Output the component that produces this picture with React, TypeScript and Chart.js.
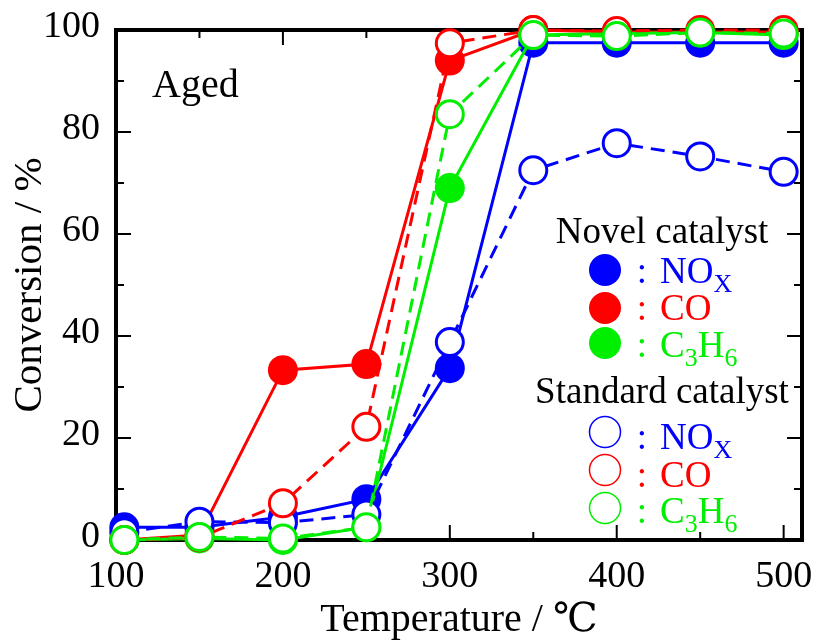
import { useEffect, useRef } from 'react';
import { Chart, registerables } from 'chart.js';

Chart.register(...registerables);

// ---- data ----
const temperatures = [105, 150, 200, 250, 300, 350, 400, 450, 500];
const novelNOx = [2.5, 2.5, 4.5, 8, 33.7, 97.5, 97.5, 97.5, 97.5];
const novelCO = [0, 1, 33.3, 34.5, 94, 100, 99.6, 99.6, 99.6];
const novelC3H6 = [0, 0.3, 0, 2.5, 69, 99, 99.3, 99.5, 99];
const stdNOx = [1.5, 3.6, 3.4, 5, 38.8, 72.5, 77.8, 75.2, 72.2];
const stdCO = [0, 0.5, 7.2, 22.2, 97.4, 100, 99.8, 100, 100];
const stdC3H6 = [0, 0.6, 0.3, 2.5, 83.5, 99, 98.8, 99.5, 99.3];

const xTickLabels = [100, 200, 300, 400, 500];
const yTickLabels = [0, 20, 40, 60, 80, 100];
const xTickMarks = [150, 200, 250, 300, 350, 400, 450, 500];
const yTickMarks = [10, 20, 30, 40, 50, 60, 70, 80, 90];

const BLUE = '#0000ff';
const RED = '#ff0000';
const GREEN = '#00ee00';
const SERIF = "'Liberation Serif', 'DejaVu Serif', serif";

const legendTitles = ['Novel catalyst', 'Standard catalyst'];
const legendSpecies: { color: string; parts: [string, boolean][] }[] = [
  { color: BLUE, parts: [['NO', false], ['X', true]] },
  { color: RED, parts: [['CO', false]] },
  { color: GREEN, parts: [['C', false], ['3', true], ['H', false], ['6', true]] },
];

function pts(arr: number[]) {
  return temperatures.map((t, i) => ({ x: t, y: arr[i] }));
}

function filled(label: string, arr: number[], color: string, order: number) {
  return {
    label,
    data: pts(arr),
    borderColor: color,
    backgroundColor: color,
    borderWidth: 3,
    pointRadius: 15,
    pointBorderWidth: 0,
    pointBackgroundColor: color,
    pointBorderColor: color,
    tension: 0,
    clip: false as any,
    order,
  };
}

function open(label: string, arr: number[], color: string, order: number) {
  return {
    label,
    data: pts(arr),
    borderColor: color,
    backgroundColor: '#ffffff',
    borderWidth: 3,
    borderDash: [14, 8],
    pointRadius: 13.5,
    pointBorderWidth: 3,
    pointBackgroundColor: '#ffffff',
    pointBorderColor: color,
    tension: 0,
    clip: false as any,
    order,
  };
}

const framePlugin = {
  id: 'frame',
  beforeDatasetsDraw(chart: any) {
    const { ctx, chartArea: a, scales } = chart;
    const xs = scales.x;
    const ys = scales.y;
    ctx.save();
    ctx.strokeStyle = '#000';
    ctx.lineWidth = 2;
    const seg = (x1: number, y1: number, x2: number, y2: number) => {
      ctx.beginPath();
      ctx.moveTo(x1, y1);
      ctx.lineTo(x2, y2);
      ctx.stroke();
    };
    xTickMarks.forEach((v) => {
      const px = xs.getPixelForValue(v);
      const len = v % 100 === 0 ? 15 : 8;
      seg(px, a.bottom, px, a.bottom - len);
      seg(px, a.top, px, a.top + len);
    });
    yTickMarks.forEach((v) => {
      const py = ys.getPixelForValue(v);
      const len = v % 20 === 0 ? 15 : 8;
      seg(a.left, py, a.left + len, py);
      seg(a.right, py, a.right - len, py);
    });
    ctx.lineWidth = 4;
    ctx.strokeRect(a.left, a.top, a.right - a.left, a.bottom - a.top);
    ctx.restore();
  },
};

function drawRich(ctx: CanvasRenderingContext2D, parts: [string, boolean][], x: number, y: number, color: string) {
  let cx = x;
  ctx.fillStyle = color;
  ctx.textAlign = 'left';
  ctx.textBaseline = 'alphabetic';
  parts.forEach(([t, sub]) => {
    ctx.font = sub ? `26px ${SERIF}` : `37px ${SERIF}`;
    ctx.fillText(t, cx, sub ? y + 9 : y);
    cx += ctx.measureText(t).width;
  });
}

const legendPlugin = {
  id: 'customLegend',
  afterDraw(chart: any) {
    const ctx: CanvasRenderingContext2D = chart.ctx;
    ctx.save();
    ctx.fillStyle = '#000';
    ctx.font = `40px ${SERIF}`;
    ctx.textAlign = 'left';
    ctx.textBaseline = 'alphabetic';
    ctx.fillText('Aged', 152, 97);

    const groups = [
      { title: legendTitles[0], titleY: 243, rows: [283, 320, 357], marks: [270, 308, 343], fill: true },
      { title: legendTitles[1], titleY: 403, rows: [449, 487, 523], marks: [432, 470, 508], fill: false },
    ];
    groups.forEach((g) => {
      ctx.fillStyle = '#000';
      ctx.font = `37px ${SERIF}`;
      ctx.textAlign = 'center';
      ctx.fillText(g.title, 662, g.titleY);
      legendSpecies.forEach((s, i) => {
        ctx.beginPath();
        if (g.fill) {
          ctx.arc(605, g.marks[i], 16, 0, Math.PI * 2);
          ctx.fillStyle = s.color;
          ctx.fill();
        } else {
          ctx.arc(605, g.marks[i], 15.5, 0, Math.PI * 2);
          ctx.strokeStyle = s.color;
          ctx.lineWidth = 1.5;
          ctx.stroke();
        }
        ctx.fillStyle = s.color;
        ctx.font = `37px ${SERIF}`;
        ctx.textAlign = 'center';
        ctx.fillText(':', 642, g.rows[i]);
        drawRich(ctx, s.parts, 660, g.rows[i], s.color);
      });
    });
    ctx.restore();
  },
};

const zeroPadding = (s: any) => {
  s.paddingTop = 0;
  s.paddingBottom = 0;
  s.paddingLeft = 0;
  s.paddingRight = 0;
};

export default function App() {
  const ref = useRef<HTMLCanvasElement | null>(null);
  useEffect(() => {
    if (!ref.current) return;
    const chart = new Chart(ref.current, {
      type: 'line',
      data: {
        datasets: [
          filled('Novel NOx', novelNOx, BLUE, 6),
          filled('Novel CO', novelCO, RED, 5),
          filled('Novel C3H6', novelC3H6, GREEN, 4),
          open('Standard NOx', stdNOx, BLUE, 3),
          open('Standard CO', stdCO, RED, 2),
          open('Standard C3H6', stdC3H6, GREEN, 1),
        ] as any,
      },
      options: {
        animation: false,
        responsive: false,
        maintainAspectRatio: false,
        layout: { padding: { top: 30, right: 17, left: 0, bottom: 0 } },
        plugins: { legend: { display: false }, tooltip: { enabled: false } },
        scales: {
          x: {
            type: 'linear',
            min: 100,
            max: 511,
            grid: { display: false, drawTicks: false },
            border: { display: false },
            afterBuildTicks: (s: any) => {
              s.ticks = xTickLabels.map((v) => ({ value: v }));
            },
            afterFit: (s: any) => {
              s.height = 101;
              zeroPadding(s);
            },
            ticks: {
              color: '#000',
              padding: 14,
              maxRotation: 0,
              autoSkip: false,
              font: { family: SERIF, size: 38 },
            },
            title: {
              display: true,
              text: 'Temperature / ℃',
              color: '#000',
              font: { family: SERIF, size: 40, lineHeight: 1 },
              padding: { top: 0, bottom: 1 },
            },
          },
          y: {
            type: 'linear',
            min: 0,
            max: 100,
            grid: { display: false, drawTicks: false },
            border: { display: false },
            afterBuildTicks: (s: any) => {
              s.ticks = yTickLabels.map((v) => ({ value: v }));
            },
            afterFit: (s: any) => {
              s.width = 116;
              zeroPadding(s);
            },
            ticks: {
              color: '#000',
              padding: 16,
              labelOffset: -3,
              autoSkip: false,
              font: { family: SERIF, size: 38 },
            },
            title: {
              display: true,
              text: 'Conversion / %',
              color: '#000',
              font: { family: SERIF, size: 41, lineHeight: 1 },
              padding: { top: 10, bottom: 0 },
            },
          },
        },
      },
      plugins: [framePlugin, legendPlugin],
    });
    return () => chart.destroy();
  }, []);
  return (
    <div style={{ position: 'absolute', left: 0, top: 0, width: 819, height: 641, background: '#fff' }}>
      <canvas ref={ref} width={819} height={641} style={{ width: 819, height: 641 }} />
    </div>
  );
}
